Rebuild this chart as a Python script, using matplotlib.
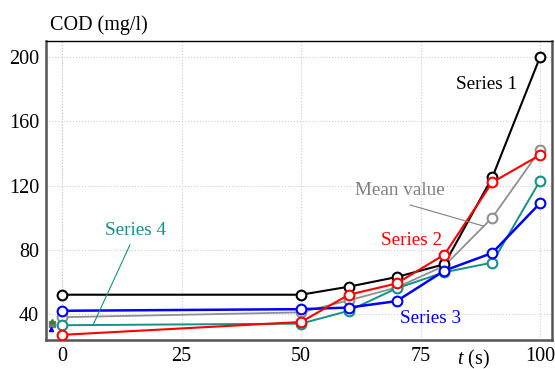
import matplotlib
matplotlib.use("Agg")
import matplotlib.pyplot as plt

t = [0, 50, 60, 70, 80, 90, 100]
series1 = [52, 52, 57, 63, 71, 125, 200]
series2 = [27, 35, 52, 59, 77, 122, 139]
series3 = [42, 43, 44, 48, 67, 78, 109]
series4 = [33, 34, 42, 56, 66, 72, 123]
mean_value = [38, 41, 48.5, 56.5, 70, 100, 142]

xticks = [0, 25, 50, 75, 100]
yticks = [40, 80, 120, 160, 200]

plt.rcParams['font.family'] = ['Liberation Serif', 'DejaVu Serif']
plt.rcParams['mathtext.fontset'] = 'custom'
plt.rcParams['mathtext.it'] = 'Liberation Serif:italic'
plt.rcParams['mathtext.rm'] = 'Liberation Serif'

fig = plt.figure(figsize=(5.55, 3.69), dpi=100)
ax = fig.add_axes([46/555, 1-340/369, (552-46)/555, (340-41)/369])

ax.set_xlim(-3.35, 102.5)
ax.set_ylim(23.8, 210)
ax.set_xticks(xticks)
ax.set_yticks(yticks)
ax.tick_params(length=0, labelsize=14.5, pad=5)
ax.grid(True, color='#cccccc', linestyle=':', linewidth=0.8)
ax.axvline(0, color='#cccccc', linestyle=':', linewidth=0.8, zorder=0)

for s in ['left', 'bottom', 'right']:
    ax.spines[s].set_color('#555555')
    ax.spines[s].set_linewidth(1.8)
ax.spines['top'].set_color('black')
ax.spines['top'].set_linewidth(1.0)

mk = dict(marker='o', markersize=7, markerfacecolor='white', markeredgewidth=1.5)
ax.plot(t, mean_value, color='#909090', lw=1.3, markeredgecolor='#909090', **mk, zorder=3)
ax.plot(t, series1, color='black', lw=1.5, markeredgecolor='black', **mk, zorder=4)
ax.plot(t, series4, color='#13918a', lw=1.4, markeredgecolor='#13918a', **mk, zorder=5)
ax.plot(t, series3, color='#0000ff', lw=1.8, markeredgecolor='#0000ff', **mk, zorder=6)
ax.plot(t, series2, color='#ff0000', lw=1.5, markeredgecolor='#ff0000', **mk, zorder=7)

# small artifacts at left edge
ax.plot([-2.1], [33.5], marker='s', color='#777777', markersize=4, zorder=2)
ax.plot([-2.0], [35.5], marker='^', color='#2a8a2a', markersize=3, zorder=2)
ax.plot([-2.4], [30.5], marker='^', color='#0000ff', markersize=3, zorder=2)

fs = 13.8
ax.text(88.9, 183.2, 'Series 1', color='black', fontsize=fs, ha='center', va='center')
ax.text(70.7, 117.2, 'Mean value', color='#808080', fontsize=fs, ha='center', va='center')
ax.plot([72.8, 88.1], [107.9, 94.8], color='#808080', lw=0.8, zorder=8)
ax.text(73.2, 86, 'Series 2', color='#ff0000', fontsize=fs, ha='center', va='center')
ax.text(77, 37.5, 'Series 3', color='#0000ff', fontsize=fs, ha='center', va='center')
ax.text(15.3, 92.3, 'Series 4', color='#13918a', fontsize=fs, ha='center', va='center')
ax.plot([14.2, 6.5], [83, 33.2], color='#13918a', lw=0.8, zorder=8)

fig.text(50/555, 1-25/369, 'COD (mg/l)', fontsize=14.5, ha='left', va='center')
fig.text(473/555, 1-359/369, r'$t$ (s)', fontsize=14.5, ha='center', va='center')

fig.savefig('out.png', dpi=100)
